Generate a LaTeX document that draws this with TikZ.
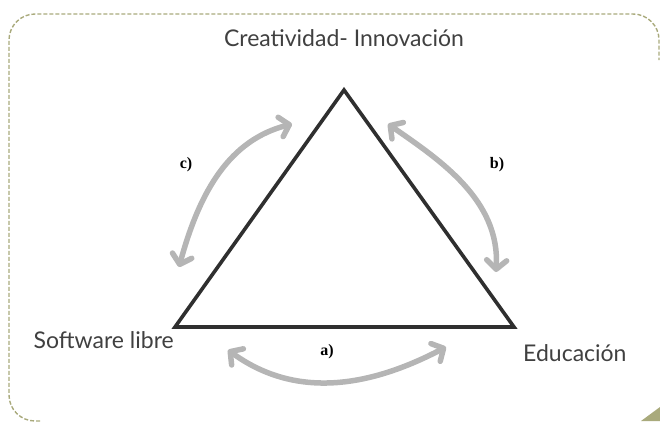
\documentclass[tikz,border=0pt]{standalone}
\usepackage{fontspec}
\setmainfont{Liberation Serif}
\newfontfamily\handfont{Lato}
\usepackage{xcolor}
\usetikzlibrary{arrows.meta,positioning,calc}
\definecolor{frameolive}{HTML}{A9AA7C}
\definecolor{flowgray}{HTML}{B5B5B5}
\definecolor{edgedark}{HTML}{2F2F2F}

\begin{document}
\begin{tikzpicture}[x=1pt,y=-1pt,font=\small,
  corner/.style={font=\handfont\fontsize{23}{26}\selectfont,text=black!75,inner sep=0pt},
  tag/.style={font=\bfseries\fontsize{16}{18}\selectfont,inner sep=0pt},
  flow/.style={flowgray,line width=5.5pt,line cap=round,
    {Straight Barb[length=9pt,width=20pt,line cap=round,line join=round]}-{Straight Barb[length=9pt,width=20pt,line cap=round,line join=round]}}]
  \useasboundingbox (0,0) rectangle (660,421);
  % frame
  \draw[frameolive,line width=1.4pt,dash pattern=on 4pt off 2pt,rounded corners=26pt]
    (40,421) -- (9,421) -- (9,14) -- (659,14) -- (659,60);
  \fill[frameolive] (641,421) -- (660,407) -- (660,421) -- cycle;
  % triangle
  \coordinate (top) at (344,90);  \coordinate (left) at (175,327);  \coordinate (right) at (514,327);
  \draw[edgedark,line width=3.6pt,line join=miter] (top) -- (right) -- (left) -- cycle;
  \node[corner] (crea) at (344,38) {Creatividad- Innovación};
  \node[corner,anchor=east] (soft) at (174,340) {Software libre};
  \node[corner,anchor=west] (edu) at (523,353) {Educación};
  % relations
  \coordinate (aL) at (228,350);  \coordinate (aR) at (446,347);
  \coordinate (bT) at (388,124);  \coordinate (bB) at (496,272);
  \coordinate (cB) at (179,267);  \coordinate (cT) at (292,124);
  \draw[flow] (aL) .. controls (290,395) and (360,392) .. (aR);
  \draw[flow] (bT) .. controls (440,160) and (500,200) .. (bB);
  \draw[flow] (cB) .. controls (200,190) and (230,140) .. (cT);
  \node[tag] (a) at (327,352) {a)};
  \node[tag] (b) at (497,165) {b)};
  \node[tag] (c) at (186,165) {c)};
\end{tikzpicture}
\end{document}
